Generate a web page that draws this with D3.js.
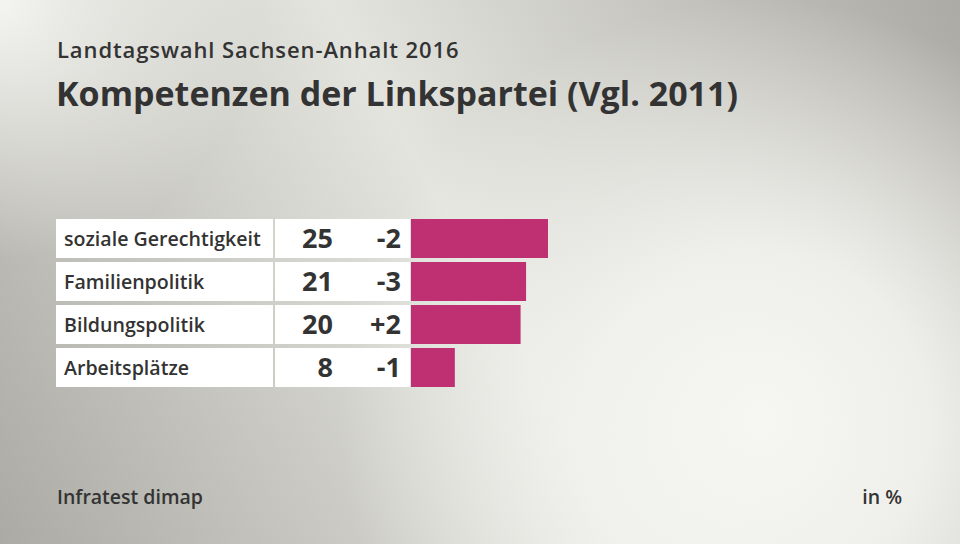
<!DOCTYPE html>
<html><head><meta charset="utf-8">
<script src="https://cdn.jsdelivr.net/npm/d3@7"></script>
<style>html,body{margin:0;padding:0;}svg{display:block;}</style>
</head><body>
<script>
const categories = ["soziale Gerechtigkeit", "Familienpolitik", "Bildungspolitik", "Arbeitsplätze"];
const values = [25, 21, 20, 8];
const changes = ["-2", "-3", "+2", "-1"];
const subtitle = "Landtagswahl Sachsen-Anhalt 2016";
const title = "Kompetenzen der Linkspartei (Vgl. 2011)";
const source = "Infratest dimap";
const unit = "in %";

const W = 960, H = 544;
const font = "'Open Sans', Lato, sans-serif";
const svg = d3.select("body").append("svg").attr("width", W).attr("height", H);
const defs = svg.append("defs");

const lg = defs.append("linearGradient").attr("id", "bgl")
  .attr("gradientUnits", "userSpaceOnUse").attr("x1", 960).attr("y1", 0).attr("x2", 0).attr("y2", 544);
lg.append("stop").attr("offset", 0).attr("stop-color", "#abaaa4");
lg.append("stop").attr("offset", 0.5).attr("stop-color", "#e4e4df");
lg.append("stop").attr("offset", 1).attr("stop-color", "#abaaa4");

const rg = defs.append("radialGradient").attr("id", "bgr")
  .attr("gradientUnits", "userSpaceOnUse").attr("cx", 760).attr("cy", 420).attr("r", 420);
rg.append("stop").attr("offset", 0).attr("stop-color", "#f6f6f2").attr("stop-opacity", 1);
rg.append("stop").attr("offset", 0.4).attr("stop-color", "#f3f3ef").attr("stop-opacity", 0.9);
rg.append("stop").attr("offset", 1).attr("stop-color", "#f3f3ef").attr("stop-opacity", 0);

const rg2 = defs.append("radialGradient").attr("id", "bgr2")
  .attr("gradientUnits", "userSpaceOnUse").attr("cx", 0).attr("cy", 0).attr("r", 260);
rg2.append("stop").attr("offset", 0).attr("stop-color", "#f4f4f0").attr("stop-opacity", 1);
rg2.append("stop").attr("offset", 1).attr("stop-color", "#f4f4f0").attr("stop-opacity", 0);

svg.append("rect").attr("width", W).attr("height", H).attr("fill", "url(#bgl)");
svg.append("rect").attr("width", W).attr("height", H).attr("fill", "url(#bgr)");
svg.append("rect").attr("width", W).attr("height", H).attr("fill", "url(#bgr2)");

svg.append("text").attr("x", 57).attr("y", 58).text(subtitle)
  .attr("font-family", font).attr("font-weight", 600).attr("font-size", 22)
  .attr("letter-spacing", 0.9).attr("fill", "#333");
svg.append("text").attr("x", 56).attr("y", 106).text(title)
  .attr("font-family", font).attr("font-weight", 700).attr("font-size", 34).attr("fill", "#333");

const y = d3.scaleBand().domain(categories).range([219, 387]).paddingInner(4 / 43).paddingOuter(0);
const x = d3.scaleLinear().domain([0, 25]).range([411, 548]);

const rows = svg.append("g").selectAll("g").data(categories).join("g")
  .attr("transform", d => `translate(0,${y(d)})`);
const bh = y.bandwidth();

rows.append("rect").attr("x", 56).attr("width", 217).attr("height", bh).attr("fill", "#fff");
rows.append("rect").attr("x", 275).attr("width", 135).attr("height", bh).attr("fill", "#fff");
rows.append("rect").attr("x", x(0)).attr("width", (d, i) => x(values[i]) - x(0)).attr("height", bh)
  .attr("fill", "#bf3072");

rows.append("text").attr("x", 64).attr("y", bh / 2 + 7).text(d => d)
  .attr("font-family", font).attr("font-weight", 600).attr("font-size", 19.6).attr("fill", "#333");
rows.append("text").attr("x", 333).attr("y", bh / 2 + 9.5).attr("text-anchor", "end")
  .text((d, i) => values[i])
  .attr("font-family", font).attr("font-weight", 700).attr("font-size", 27).attr("fill", "#333");
rows.append("text").attr("x", 401).attr("y", bh / 2 + 9.5).attr("text-anchor", "end")
  .text((d, i) => changes[i])
  .attr("font-family", font).attr("font-weight", 700).attr("font-size", 27).attr("fill", "#333");

svg.append("text").attr("x", 57).attr("y", 504).text(source)
  .attr("font-family", font).attr("font-weight", 600).attr("font-size", 19.5).attr("fill", "#333");
svg.append("text").attr("x", 902).attr("y", 504).attr("text-anchor", "end").text(unit)
  .attr("font-family", font).attr("font-weight", 600).attr("font-size", 19.5).attr("fill", "#333");
</script>
</body></html>
